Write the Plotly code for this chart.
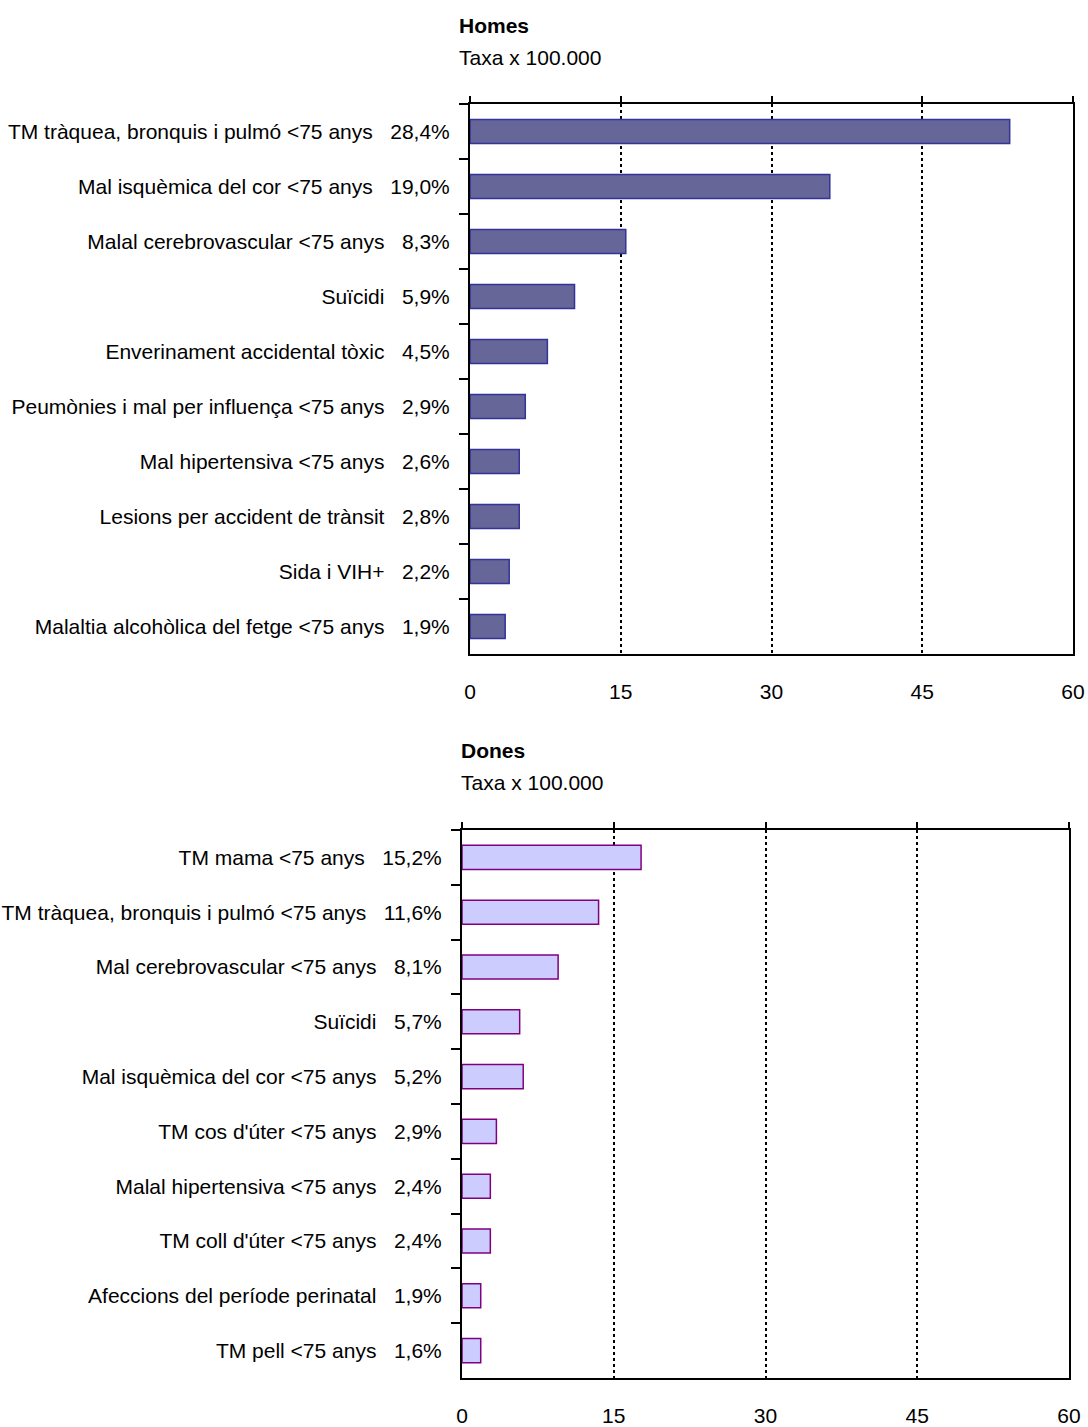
import plotly.graph_objects as go

# Homes: causes, share of deaths and rate per 100.000
homes_causes = [
    "TM tràquea, bronquis i pulmó <75 anys",
    "Mal isquèmica del cor <75 anys",
    "Malal cerebrovascular <75 anys",
    "Suïcidi",
    "Enverinament accidental tòxic",
    "Peumònies i mal per influença <75 anys",
    "Mal hipertensiva <75 anys",
    "Lesions per accident de trànsit",
    "Sida i VIH+",
    "Malaltia alcohòlica del fetge <75 anys",
]
homes_pct = ["28,4%", "19,0%", "8,3%", "5,9%", "4,5%", "2,9%", "2,6%", "2,8%", "2,2%", "1,9%"]
homes_taxa = [53.7, 35.8, 15.5, 10.4, 7.7, 5.5, 4.9, 4.9, 3.9, 3.5]

# Dones: causes, share of deaths and rate per 100.000
dones_causes = [
    "TM mama <75 anys",
    "TM tràquea, bronquis i pulmó <75 anys",
    "Mal cerebrovascular <75 anys",
    "Suïcidi",
    "Mal isquèmica del cor <75 anys",
    "TM cos d'úter <75 anys",
    "Malal hipertensiva <75 anys",
    "TM coll d'úter <75 anys",
    "Afeccions del període perinatal",
    "TM pell <75 anys",
]
dones_pct = ["15,2%", "11,6%", "8,1%", "5,7%", "5,2%", "2,9%", "2,4%", "2,4%", "1,9%", "1,6%"]
dones_taxa = [17.7, 13.5, 9.5, 5.7, 6.05, 3.4, 2.8, 2.8, 1.85, 1.85]

x_ticks = [0, 15, 30, 45, 60]

FONT = "Liberation Sans, Arial, sans-serif"
FS = 21
W, H = 1088, 1427
GAP = "\u00a0" * 3


def labels(causes, pct):
    return [f"{c}{GAP}{p}" for c, p in zip(causes, pct)]


fig = go.Figure()

fig.add_trace(go.Bar(
    x=homes_taxa, y=labels(homes_causes, homes_pct), orientation="h",
    marker=dict(color="#666699", line=dict(color="#333399", width=1.5)),
    width=0.44, xaxis="x", yaxis="y", showlegend=False,
))
fig.add_trace(go.Bar(
    x=dones_taxa, y=labels(dones_causes, dones_pct), orientation="h",
    marker=dict(color="#CCCCFF", line=dict(color="#800080", width=1.5)),
    width=0.44, xaxis="x3", yaxis="y3", showlegend=False,
))

# pixel boxes of the two panels (left, top, right, bottom)
top_box = (470, 104, 1073, 654)
bot_box = (462, 830, 1069, 1378)


def xdom(b):
    return [b[0] / W, b[2] / W]


def ydom(b):
    return [1 - b[3] / H, 1 - b[1] / H]


def xaxis_main(b, anchor):
    return dict(
        domain=xdom(b), anchor=anchor, range=[0, 60], tickvals=x_ticks,
        showline=True, linecolor="black", linewidth=2, mirror=True,
        showgrid=True, gridcolor="black", gridwidth=2, griddash="3px,3px",
        zeroline=False, ticks="", ticklabelstandoff=18, automargin=False,
        tickfont=dict(family=FONT, size=FS, color="black"),
    )


def xaxis_top(b, anchor, overlay):
    return dict(
        domain=xdom(b), anchor=anchor, overlaying=overlay, side="top",
        range=[0, 60], tickvals=x_ticks, showticklabels=False,
        ticks="outside", ticklen=7, tickwidth=2, tickcolor="black",
        showgrid=False, zeroline=False, showline=False, automargin=False,
    )


def yaxis(b, anchor):
    return dict(
        domain=ydom(b), anchor=anchor, autorange="reversed", type="category",
        showline=True, linecolor="black", linewidth=2, mirror=True,
        ticks="outside", tickson="boundaries", ticklen=9, tickwidth=2,
        tickcolor="black", showgrid=False, zeroline=False,
        ticklabelstandoff=14, automargin=False,
        tickfont=dict(family=FONT, size=FS, color="black"),
    )


fig.update_layout(
    width=W, height=H, margin=dict(l=0, r=0, t=0, b=0, autoexpand=False),
    paper_bgcolor="white", plot_bgcolor="white", bargap=0.56,
    xaxis=xaxis_main(top_box, "y"),
    xaxis2=xaxis_top(top_box, "y", "x"),
    yaxis=yaxis(top_box, "x"),
    xaxis3=xaxis_main(bot_box, "y3"),
    xaxis4=xaxis_top(bot_box, "y3", "x3"),
    yaxis3=yaxis(bot_box, "x3"),
)

# invisible traces so the top tick axes are drawn
fig.add_trace(go.Scatter(x=[None], y=[None], xaxis="x2", yaxis="y", showlegend=False, hoverinfo="skip"))
fig.add_trace(go.Scatter(x=[None], y=[None], xaxis="x4", yaxis="y3", showlegend=False, hoverinfo="skip"))


def header(x_px, y_px, text, bold=False):
    fig.add_annotation(
        xref="paper", yref="paper", x=x_px / W, y=1 - y_px / H,
        xanchor="left", yanchor="middle", showarrow=False,
        text=f"<b>{text}</b>" if bold else text,
        font=dict(family=FONT, size=FS, color="black"),
    )


header(457, 26, "Homes", bold=True)
header(457, 58, "Taxa x 100.000")
header(459, 750, "Dones", bold=True)
header(459, 782, "Taxa x 100.000")

fig.write_html("out.html")
